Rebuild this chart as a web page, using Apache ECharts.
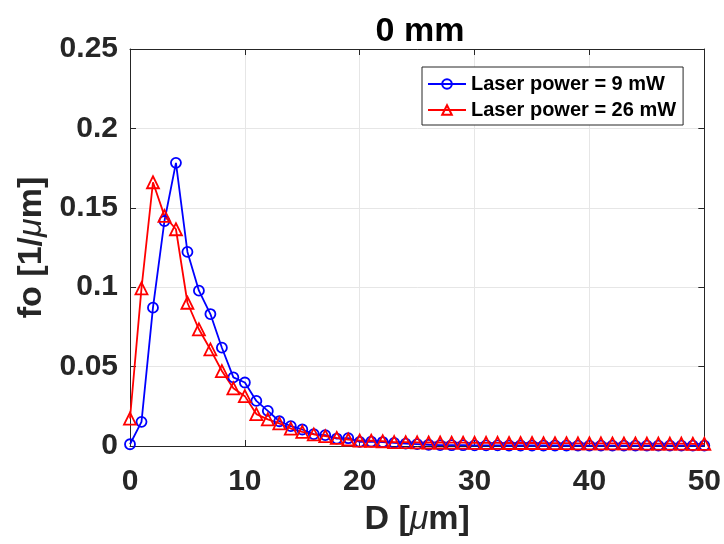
<!DOCTYPE html>
<html>
<head>
<meta charset="utf-8">
<script src="https://cdn.jsdelivr.net/npm/echarts@6/dist/echarts.min.js"></script>
<style>
  html, body { margin: 0; padding: 0; background: #fff; }
  #chart { width: 724px; height: 544px; }
</style>
</head>
<body>
<div id="chart"></div>
<script>
(function(){
    // D 值 0..50
    var diameters = [];
    for (var i = 0; i <= 50; i++) diameters.push(i);

    // 9 mW 数据
    var power9 = [0.0011, 0.0152, 0.0871, 0.1417, 0.1783, 0.1222, 0.0978, 0.0831, 0.0619, 0.0432,
                  0.0400, 0.0284, 0.0221, 0.0156, 0.0125, 0.0104, 0.0075, 0.0068, 0.0047, 0.0049,
                  0.0026, 0.0027, 0.0025, 0.0020, 0.0015, 0.0012, 0.0008, 0.0006, 0.0005, 0.0005,
                  0.0004, 0.0004, 0.0004, 0.0003, 0.0003, 0.0003, 0.0003, 0.0003, 0.0003, 0.0002,
                  0.0002, 0.0002, 0.0002, 0.0002, 0.0002, 0.0002, 0.0002, 0.0002, 0.0002, 0.0002,
                  0.0002];
    // 26 mW 数据
    var power26 = [0.0173, 0.0993, 0.1661, 0.1449, 0.1365, 0.0902, 0.0735, 0.0608, 0.0472, 0.0363,
                   0.0314, 0.0201, 0.0168, 0.0142, 0.0110, 0.0089, 0.0073, 0.0062, 0.0051, 0.0041,
                   0.0034, 0.0033, 0.0030, 0.0025, 0.0024, 0.0023, 0.0022, 0.0022, 0.0021, 0.0021,
                   0.0020, 0.0020, 0.0020, 0.0019, 0.0019, 0.0019, 0.0018, 0.0018, 0.0018, 0.0017,
                   0.0017, 0.0017, 0.0016, 0.0016, 0.0016, 0.0015, 0.0015, 0.0015, 0.0015, 0.0014,
                   0.0014];

    var seriesNames = ['Laser power = 9 mW', 'Laser power = 26 mW'];
    var titleText = '0 mm';

    function pairs(ys) {
        return diameters.map(function (d, k) { return [d, ys[k]]; });
    }

    var font = 'Liberation Sans, Arial, Helvetica, sans-serif';
    var axisColor = '#262626';
    var gridColor = '#e6e6e6';

    var myChart = echarts.init(document.getElementById('chart'));
    var option = {
        backgroundColor: '#fff',
        animation: false,
        title: {
            text: titleText,
            left: 415, top: 10,
            textAlign: 'center',
            textStyle: { fontFamily: font, fontSize: 34, fontWeight: 'bold', color: '#000' }
        },
        legend: {
            orient: 'vertical',
            left: 422, top: 67,
            data: seriesNames,
            backgroundColor: '#fff',
            borderColor: axisColor,
            borderWidth: 1,
            borderRadius: 0,
            padding: [7, 7, 5, 5],
            itemGap: 6,
            itemWidth: 38,
            itemHeight: 12,
            textStyle: { fontFamily: font, fontSize: 20, fontWeight: 'bold', color: '#000' }
        },
        grid: { left: 130, right: 19, top: 49, bottom: 98 },
        xAxis: [{
            type: 'value',
            min: 0, max: 50, interval: 10,
            name: 'D [{i|μ}m]',
            nameLocation: 'middle',
            nameGap: 57,
            nameTextStyle: {
                fontFamily: font, fontSize: 34, fontWeight: 'bold', color: axisColor,
                rich: { i: { fontFamily: font, fontSize: 34, fontStyle: 'italic', fontWeight: 'normal', color: axisColor } }
            },
            axisLine: { show: true, lineStyle: { color: axisColor, width: 1 } },
            axisTick: { show: true, inside: true, length: 6, lineStyle: { color: axisColor } },
            axisLabel: { margin: 21, fontFamily: font, fontSize: 30, fontWeight: 'bold', color: axisColor },
            splitLine: { show: true, lineStyle: { color: gridColor, width: 1 } }
        }, {
            type: 'value', position: 'top',
            min: 0, max: 50, interval: 10,
            axisLine: { show: true, onZero: false, lineStyle: { color: axisColor, width: 1 } },
            axisTick: { show: true, inside: true, length: 6, lineStyle: { color: axisColor } },
            axisLabel: { show: false },
            splitLine: { show: false }
        }],
        yAxis: [{
            type: 'value',
            min: 0, max: 0.25, interval: 0.05,
            name: 'fo [1/{i|μ}m]',
            nameLocation: 'middle',
            nameGap: 80,
            nameTextStyle: {
                fontFamily: font, fontSize: 34, fontWeight: 'bold', color: axisColor,
                rich: { i: { fontFamily: font, fontSize: 34, fontStyle: 'italic', fontWeight: 'normal', color: axisColor } }
            },
            axisLine: { show: true, lineStyle: { color: axisColor, width: 1 } },
            axisTick: { show: true, inside: true, length: 6, lineStyle: { color: axisColor } },
            axisLabel: { margin: 12, fontFamily: font, fontSize: 30, fontWeight: 'bold', color: axisColor },
            splitLine: { show: true, lineStyle: { color: gridColor, width: 1 } }
        }, {
            type: 'value', position: 'right',
            min: 0, max: 0.25, interval: 0.05,
            axisLine: { show: true, onZero: false, lineStyle: { color: axisColor, width: 1 } },
            axisTick: { show: true, inside: true, length: 6, lineStyle: { color: axisColor } },
            axisLabel: { show: false },
            splitLine: { show: false }
        }],
        series: [{
            name: seriesNames[0],
            type: 'line',
            data: pairs(power9),
            symbol: 'circle',
            symbolSize: 10,
            lineStyle: { color: '#0000ff', width: 1.8 },
            itemStyle: { color: 'rgba(255,255,255,0)', borderColor: '#0000ff', borderWidth: 1.8 }
        }, {
            name: seriesNames[1],
            type: 'line',
            data: pairs(power26),
            symbol: 'triangle',
            symbolSize: 12,
            lineStyle: { color: '#ff0000', width: 1.8 },
            itemStyle: { color: 'rgba(255,255,255,0)', borderColor: '#ff0000', borderWidth: 1.8 }
        }]
    };
    myChart.setOption(option);
})();
</script>
</body>
</html>
